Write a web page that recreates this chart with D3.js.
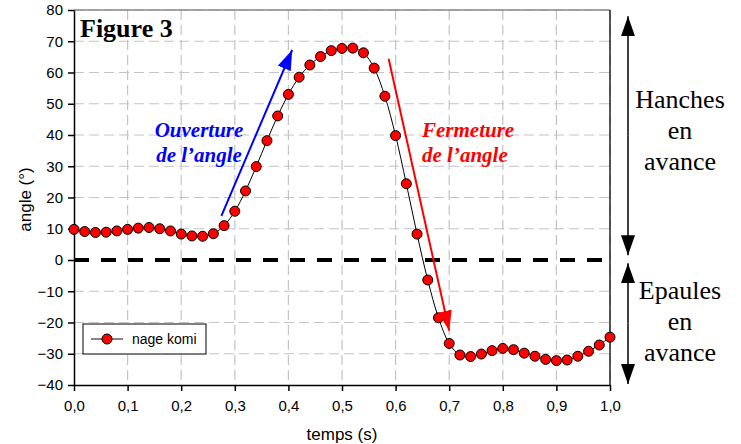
<!DOCTYPE html>
<html>
<head>
<meta charset="utf-8">
<script src="https://cdn.jsdelivr.net/npm/d3@7"></script>
<style>
  body { margin: 0; background: #fff; }
  svg { display: block; }
</style>
</head>
<body>
<div id="chart"></div>
<script>
// time (s) every 0.02 s, angle (deg)
const times = d3.range(51).map(i => +(i * 0.02).toFixed(2));
const angles = [
  9.8, 9.1, 8.8, 8.9, 9.3, 9.8, 10.2, 10.4, 10.0, 9.3,
  8.3, 7.7, 7.6, 8.4, 11.0, 15.6, 22.1, 29.9, 38.2, 46.1,
  53.0, 58.5, 62.4, 65.1, 67.0, 67.7, 67.8, 66.3, 61.4, 52.4,
  39.8, 24.4, 8.3, -6.4, -18.5, -26.7, -30.4, -30.9, -30.1, -29.0,
  -28.3, -28.7, -29.8, -30.8, -31.8, -32.2, -32.0, -30.8, -29.2, -27.2,
  -24.7
];
const xTicks = [0, 0.1, 0.2, 0.3, 0.4, 0.5, 0.6, 0.7, 0.8, 0.9, 1.0];
const yTicks = [-40, -30, -20, -10, 0, 10, 20, 30, 40, 50, 60, 70, 80];

// annotation arrows, in data units [t, angle]
const openArrow = [[0.275, 14.1], [0.407, 67.2]];
const closeArrow = [[0.587, 64.4], [0.7, -22.6]];

const width = 741, height = 444;
const margin = {left: 74, right: 131, top: 10, bottom: 59};

const svg = d3.select("#chart").append("svg")
  .attr("width", width)
  .attr("height", height);

const x = d3.scaleLinear().domain([0, 1]).range([margin.left, width - margin.right]);
const y = d3.scaleLinear().domain([-40, 80]).range([height - margin.bottom, margin.top]);

const defs = svg.append("defs");
function marker(id, color) {
  defs.append("marker")
    .attr("id", id)
    .attr("viewBox", "0 0 20 14")
    .attr("refX", 20).attr("refY", 7)
    .attr("markerUnits", "userSpaceOnUse")
    .attr("markerWidth", 20).attr("markerHeight", 14)
    .attr("orient", "auto")
    .append("path")
    .attr("d", "M0,0L20,7L0,14Z")
    .attr("fill", color);
}
marker("blueHead", "#0000ff");
marker("redHead", "#ff0000");
marker("blackHead", "#000");

// grid
const grid = svg.append("g");
grid.selectAll(".vg").data(xTicks.slice(1)).join("line")
  .attr("x1", d => x(d)).attr("x2", d => x(d))
  .attr("y1", y(80)).attr("y2", y(-40))
  .attr("stroke", "#c4c4c4").attr("stroke-width", 1.2)
  .attr("stroke-dasharray", "10,5");
grid.selectAll(".hg").data(yTicks.filter(d => d !== 0 && d !== -40)).join("line")
  .attr("x1", x(0)).attr("x2", x(1))
  .attr("y1", d => y(d)).attr("y2", d => y(d))
  .attr("stroke", "#c4c4c4").attr("stroke-width", 1.2)
  .attr("stroke-dasharray", "10,5");

// plot frame top / right
svg.append("line")
  .attr("x1", x(0)).attr("x2", x(1)).attr("y1", y(80)).attr("y2", y(80))
  .attr("stroke", "#888").attr("stroke-width", 1.5);
svg.append("line")
  .attr("x1", x(1)).attr("x2", x(1)).attr("y1", y(80)).attr("y2", y(-40))
  .attr("stroke", "#222").attr("stroke-width", 1.5);

// zero line
svg.append("line")
  .attr("x1", x(0)).attr("x2", x(1)).attr("y1", y(0)).attr("y2", y(0))
  .attr("stroke", "#000").attr("stroke-width", 4)
  .attr("stroke-dasharray", "15,12");

// axes
const fmt = d => d.toFixed(1).replace(".", ",");
const xAxis = svg.append("g")
  .attr("transform", `translate(0,${y(-40)})`)
  .call(d3.axisBottom(x).tickValues(xTicks).tickFormat(fmt).tickSize(6).tickSizeOuter(0));
const yAxis = svg.append("g")
  .attr("transform", `translate(${x(0)},0)`)
  .call(d3.axisLeft(y).tickValues(yTicks).tickSize(6).tickSizeOuter(0));
[xAxis, yAxis].forEach(g => {
  g.select(".domain").attr("stroke", "#000").attr("stroke-width", 1.5);
  g.selectAll(".tick line").attr("stroke", "#000").attr("stroke-width", 1.5);
  g.selectAll("text").attr("fill", "#000")
    .style("font-family", "Liberation Sans, Arial, sans-serif").style("font-size", "15px");
});
xAxis.selectAll("text").attr("dy", "1.1em");
yAxis.selectAll("text").attr("x", -11);

svg.append("text")
  .attr("x", (x(0) + x(1)) / 2).attr("y", 440)
  .attr("text-anchor", "middle")
  .style("font-family", "Liberation Sans, Arial, sans-serif").style("font-size", "17px")
  .text("temps (s)");
svg.append("text")
  .attr("transform", `translate(31,${(y(80) + y(-40)) / 2 + 2}) rotate(-90)`)
  .attr("text-anchor", "middle")
  .style("font-family", "Liberation Sans, Arial, sans-serif").style("font-size", "17px")
  .text("angle (°)");

// series
const line = d3.line()
  .x((d, i) => x(times[i]))
  .y(d => y(d))
  .curve(d3.curveCatmullRom);
svg.append("path")
  .attr("d", line(angles))
  .attr("fill", "none").attr("stroke", "#000").attr("stroke-width", 1);
svg.append("g").selectAll("circle").data(angles).join("circle")
  .attr("cx", (d, i) => x(times[i]))
  .attr("cy", d => y(d))
  .attr("r", 5)
  .attr("fill", "#ff0000").attr("stroke", "#000").attr("stroke-width", 1);

// annotation arrows
function arrow(pts, color, head) {
  svg.append("line")
    .attr("x1", x(pts[0][0])).attr("y1", y(pts[0][1]))
    .attr("x2", x(pts[1][0])).attr("y2", y(pts[1][1]))
    .attr("stroke", color).attr("stroke-width", 2)
    .attr("marker-end", `url(#${head})`);
}
arrow(openArrow, "#0000ff", "blueHead");
arrow(closeArrow, "#ff0000", "redHead");

const serif = "Liberation Serif, Times New Roman, serif";
function label(lines, cx, y0, color, anchor) {
  const t = svg.append("text")
    .attr("text-anchor", anchor)
    .attr("fill", color)
    .style("font-family", serif).style("font-size", "21px")
    .style("font-weight", "bold").style("font-style", "italic");
  lines.forEach((s, i) => t.append("tspan").attr("x", cx).attr("y", y0 + i * 25).text(s));
}
label(["Ouverture", "de l\u2019angle"], 199, 137, "#0000ff", "middle");
label(["Fermeture", "de l\u2019angle"], 422, 137, "#ff0000", "start");

svg.append("text")
  .attr("x", 80).attr("y", 37)
  .style("font-family", serif).style("font-size", "26px").style("font-weight", "bold")
  .text("Figure 3");

// right side double arrows
const ax = 628;
function dbl(y1, y2) {
  svg.append("line")
    .attr("x1", ax).attr("x2", ax).attr("y1", (y1 + y2) / 2).attr("y2", y1)
    .attr("stroke", "#000").attr("stroke-width", 1.5).attr("marker-end", "url(#blackHead)");
  svg.append("line")
    .attr("x1", ax).attr("x2", ax).attr("y1", (y1 + y2) / 2).attr("y2", y2)
    .attr("stroke", "#000").attr("stroke-width", 1.5).attr("marker-end", "url(#blackHead)");
}
dbl(y(78), y(1.5));
dbl(y(-1), y(-39.7));

function sideText(lines, y0) {
  const t = svg.append("text")
    .attr("text-anchor", "middle")
    .style("font-family", serif).style("font-size", "26px");
  lines.forEach((s, i) => t.append("tspan").attr("x", 680).attr("y", y0 + i * 31).text(s));
}
sideText(["Hanches", "en", "avance"], 108);
sideText(["Epaules", "en", "avance"], 299);

// legend
const lg = svg.append("g").attr("transform", "translate(83,324)");
lg.append("rect").attr("width", 123).attr("height", 30)
  .attr("fill", "#fff").attr("stroke", "#000").attr("stroke-width", 1);
lg.append("line").attr("x1", 8).attr("x2", 40).attr("y1", 15).attr("y2", 15)
  .attr("stroke", "#333").attr("stroke-width", 1.2);
lg.append("circle").attr("cx", 24).attr("cy", 15).attr("r", 5)
  .attr("fill", "#ff0000").attr("stroke", "#000");
lg.append("text").attr("x", 49).attr("y", 20)
  .style("font-family", "Liberation Sans, Arial, sans-serif").style("font-size", "14px")
  .text("nage komi");
</script>
</body>
</html>
